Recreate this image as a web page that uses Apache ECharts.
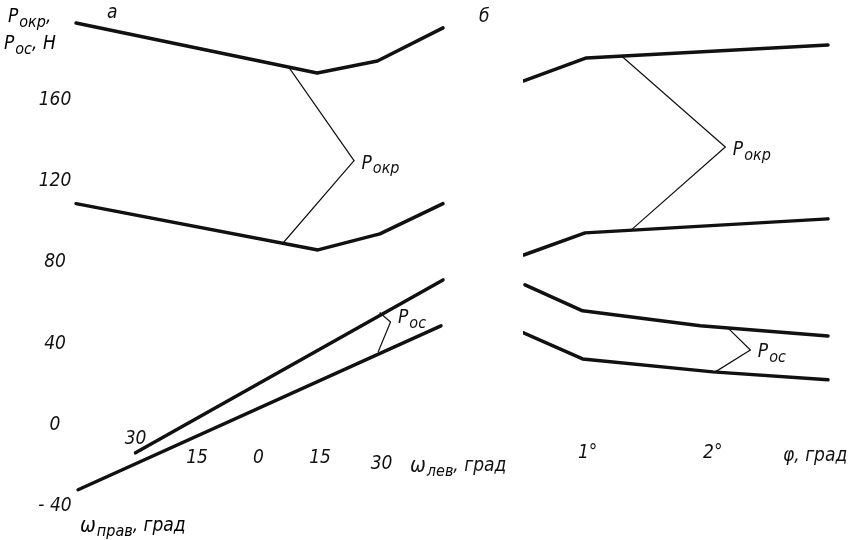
<!DOCTYPE html>
<html>
<head>
<meta charset="utf-8">
<script src="https://cdn.jsdelivr.net/npm/echarts@6/dist/echarts.min.js"></script>
<style>
  html, body { margin: 0; background: #fff; }
  #chart { width: 853px; height: 540px; }
</style>
</head>
<body>
<div id="chart"></div>
<script>
// панель а: угол поворота колёс, град (прав < 0 < лев)
var omegaTicks = [-30, -15, 0, 15, 30];
var forceTicks = [-40, 0, 40, 80, 120, 160];
var okrUpperA = [[-44.5, 198], [14.3, 173.4], [29, 179.3], [45, 195.6]];
var okrLowerA = [[-44.5, 109], [14.5, 86.2], [29.6, 94.1], [45, 109]];
var osUpperA = [[-30, -13.8], [45, 71.4]];
var osLowerA = [[-44, -32], [44.5, 48.8]];
var okrLeaderA = [[7.5, 175.9], [23.3, 130.2], [6.2, 90.1]];
var osLeaderA = [[29.6, 55.2], [32.2, 50.7], [29.2, 36]];

// панель б: угол φ, град
var phiTicks = [1, 2];
var okrUpperB = [[0.49, 169.5], [0.99, 180.8], [2.92, 187.2]];
var okrLowerB = [[0.49, 83.7], [0.98, 94.6], [2.92, 101.5]];
var osUpperB = [[0.5, 69], [0.96, 56.2], [1.9, 48.8], [2.92, 43.8]];
var osLowerB = [[0.47, 45.8], [0.96, 32.5], [2.0, 26.1], [2.92, 22.2]];
var okrLeaderB = [[1.28, 181.3], [2.1, 136.9], [1.34, 95.6]];
var osLeaderB = [[2.12, 47.8], [2.3, 36.9], [2.02, 26.1]];

var FONT = '"Liberation Sans Narrow", "DejaVu Sans Condensed", "Liberation Sans", sans-serif';
var INK = '#111';

var richP = {
  p: { fontSize: 19, fontStyle: 'italic', fontFamily: FONT, color: INK },
  s: { fontSize: 16, fontStyle: 'italic', fontFamily: FONT, color: INK, padding: [11, 0, 0, 1] },
  g: { fontSize: 19, fontStyle: 'italic', fontFamily: FONT, color: INK },
  w: { fontSize: 21, fontStyle: 'italic', fontFamily: FONT, color: INK }
};

function thick(data, xi) {
  return {
    type: 'line', xAxisIndex: xi, yAxisIndex: xi, data: data,
    symbol: 'none', silent: true,
    lineStyle: { color: INK, width: 3.5, cap: 'round', join: 'round' }
  };
}

function leader(data, xi, text, offset) {
  return {
    type: 'line', xAxisIndex: xi, yAxisIndex: xi, silent: true,
    symbol: 'circle', symbolSize: 1, showSymbol: true,
    itemStyle: { color: INK },
    lineStyle: { color: INK, width: 1.2 },
    data: data.map(function (d, i) {
      if (i !== 1) return d;
      return {
        value: d,
        label: { show: true, position: 'right', distance: 7, offset: offset, formatter: text, rich: richP }
      };
    })
  };
}

var chart = echarts.init(document.getElementById('chart'));

var labelA = {
  margin: 5,
  formatter: function (v) {
    if (omegaTicks.indexOf(v) < 0) return '';
    if (v === -30) return '{hi|30}';
    if (v === 30) return '{lo2|30}';
    return '{lo|' + Math.abs(v) + '}';
  },
  rich: {
    hi: { fontSize: 19, fontStyle: 'italic', fontFamily: FONT, color: INK },
    lo: { fontSize: 19, fontStyle: 'italic', fontFamily: FONT, color: INK, padding: [19, 0, 0, 0] },
    lo2: { fontSize: 19, fontStyle: 'italic', fontFamily: FONT, color: INK, padding: [25, 0, 0, 0] }
  }
};

var series = [
  thick(okrUpperA, 0), thick(okrLowerA, 0), thick(osUpperA, 0), thick(osLowerA, 0),
  leader(okrLeaderA, 0, '{p|P}{s|окр}', [0, 3]),
  leader(osLeaderA, 0, '{p|P}{s|ос}', [0, -4]),
  thick(okrUpperB, 1), thick(okrLowerB, 1), thick(osUpperB, 1), thick(osLowerB, 1),
  leader(okrLeaderB, 1, '{p|P}{s|окр}', [0, 3]),
  leader(osLeaderB, 1, '{p|P}{s|ос}', [0, 2])
];

chart.setOption({
  backgroundColor: '#fff',
  animation: false,
  grid: [
    { left: 74, top: 19, width: 369, height: 487, outerBoundsMode: 'none', containLabel: false },
    { left: 525, top: 19, width: 313, height: 487, outerBoundsMode: 'none', containLabel: false }
  ],
  xAxis: [
    {
      gridIndex: 0, type: 'value', min: -45, max: 45, interval: 15,
      position: 'bottom', offset: -81,
      axisLine: { show: false, onZero: false }, axisTick: { show: false }, splitLine: { show: false },
      axisLabel: labelA,
      name: '{w|ω}{s|лев}{g|, град}',
      nameLocation: 'end', nameGap: -33,
      nameTextStyle: { verticalAlign: 'top', padding: [28, 0, 0, 0], rich: richP }
    },
    {
      gridIndex: 1, type: 'value', min: 0.5, max: 3, interval: 0.5,
      position: 'bottom', offset: -81,
      axisLine: { show: false, onZero: false }, axisTick: { show: false }, splitLine: { show: false },
      axisLabel: {
        margin: 19, fontSize: 19, fontStyle: 'italic', fontFamily: FONT, color: INK,
        formatter: function (v) { return phiTicks.indexOf(v) >= 0 ? v + '°' : ''; }
      },
      name: 'φ, град', nameLocation: 'end', nameGap: -55,
      nameTextStyle: {
        verticalAlign: 'top', padding: [22, 0, 0, 0],
        fontSize: 19, fontStyle: 'italic', fontFamily: FONT, color: INK
      }
    }
  ],
  yAxis: [
    {
      gridIndex: 0, type: 'value', min: -40, max: 200, interval: 40,
      axisLine: { show: false, onZero: false }, axisTick: { show: false }, splitLine: { show: false },
      axisLabel: {
        align: 'center', margin: 19, fontSize: 19, fontStyle: 'italic', fontFamily: FONT, color: INK,
        formatter: function (v) { return forceTicks.indexOf(v) >= 0 ? (v < 0 ? '- ' + (-v) : String(v)) : ''; }
      }
    },
    {
      gridIndex: 1, type: 'value', min: -40, max: 200, interval: 40, show: false
    }
  ],
  graphic: [
    { type: 'text', left: 8, top: 8, style: { text: '{p|P}{s|окр}{g|,}', rich: richP } },
    { type: 'text', left: 4, top: 35, style: { text: '{p|P}{s|ос}{g|, Н}', rich: richP } },
    { type: 'text', left: 80, top: 516, style: { text: '{w|ω}{s|прав}{g|, град}', rich: richP } },
    { type: 'text', left: 107, top: 4, style: { text: 'а', fontSize: 19, fontStyle: 'italic', fontFamily: FONT, fill: INK } },
    { type: 'text', left: 479, top: 8, style: { text: 'б', fontSize: 19, fontStyle: 'italic', fontFamily: FONT, fill: INK } }
  ],
  series: series
});
</script>
</body>
</html>
